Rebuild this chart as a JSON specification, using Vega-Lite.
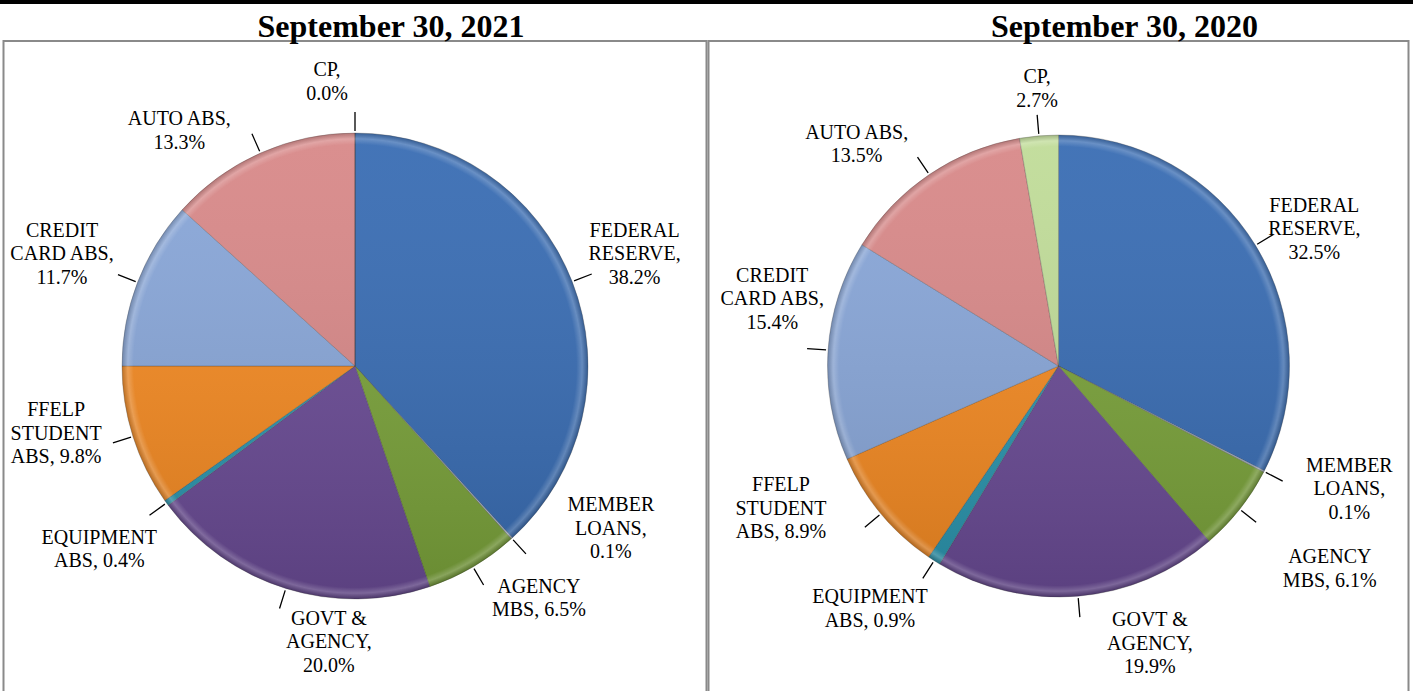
{
  "$schema": "https://vega.github.io/schema/vega-lite/v6.json",
  "padding": 0,
  "background": "white",
  "spacing": 6,
  "center": true,
  "config": {
    "view": {"stroke": "#8a8a8a", "strokeWidth": 2},
    "title": {"font": "Liberation Serif", "fontSize": 32, "fontWeight": "bold", "color": "black", "anchor": "middle", "baseline": "alphabetic", "offset": -3},
    "text": {"font": "Liberation Serif", "fontSize": 20, "lineHeight": 23.5, "color": "black", "align": "center", "baseline": "middle"}
  },
  "datasets": {
    "d2021": [
      {"cat": "FEDERAL RESERVE", "idx": 1, "value": 38.2, "label": ["FEDERAL", "RESERVE,", "38.2%"]},
      {"cat": "MEMBER LOANS", "idx": 2, "value": 0.1, "label": ["MEMBER", "LOANS,", "0.1%"]},
      {"cat": "AGENCY MBS", "idx": 3, "value": 6.5, "label": ["AGENCY", "MBS, 6.5%"]},
      {"cat": "GOVT & AGENCY", "idx": 4, "value": 20.0, "label": ["GOVT &", "AGENCY,", "20.0%"]},
      {"cat": "EQUIPMENT ABS", "idx": 5, "value": 0.4, "label": ["EQUIPMENT", "ABS, 0.4%"]},
      {"cat": "FFELP STUDENT ABS", "idx": 6, "value": 9.8, "label": ["FFELP", "STUDENT", "ABS, 9.8%"]},
      {"cat": "CREDIT CARD ABS", "idx": 7, "value": 11.7, "label": ["CREDIT", "CARD ABS,", "11.7%"]},
      {"cat": "AUTO ABS", "idx": 8, "value": 13.3, "label": ["AUTO ABS,", "13.3%"]},
      {"cat": "CP", "idx": 9, "value": 0.0, "label": ["CP,", "0.0%"]}
    ],
    "d2020": [
      {"cat": "FEDERAL RESERVE", "idx": 1, "value": 32.5, "label": ["FEDERAL", "RESERVE,", "32.5%"]},
      {"cat": "MEMBER LOANS", "idx": 2, "value": 0.1, "label": ["MEMBER", "LOANS,", "0.1%"]},
      {"cat": "AGENCY MBS", "idx": 3, "value": 6.1, "label": ["AGENCY", "MBS, 6.1%"]},
      {"cat": "GOVT & AGENCY", "idx": 4, "value": 19.9, "label": ["GOVT &", "AGENCY,", "19.9%"]},
      {"cat": "EQUIPMENT ABS", "idx": 5, "value": 0.9, "label": ["EQUIPMENT", "ABS, 0.9%"]},
      {"cat": "FFELP STUDENT ABS", "idx": 6, "value": 8.9, "label": ["FFELP", "STUDENT", "ABS, 8.9%"]},
      {"cat": "CREDIT CARD ABS", "idx": 7, "value": 15.4, "label": ["CREDIT", "CARD ABS,", "15.4%"]},
      {"cat": "AUTO ABS", "idx": 8, "value": 13.5, "label": ["AUTO ABS,", "13.5%"]},
      {"cat": "CP", "idx": 9, "value": 2.7, "label": ["CP,", "2.7%"]}
    ]
  },
  "vconcat": [
    {
      "width": 1413,
      "height": 4,
      "view": {"fill": "black", "stroke": null},
      "data": {"values": []},
      "mark": "text",
      "encoding": {}
    },
    {
      "spacing": 0,
      "hconcat": [
        {
          "width": 703,
          "height": 650,
          "view": {"stroke": "#8a8a8a", "strokeWidth": 2, "strokeDash": [1353, 703, 704]},
          "title": {"text": "September 30, 2021", "dx": 36},
          "data": {"name": "d2021"},
          "layer": [
            {
              "mark": {"type": "arc", "outerRadius": 233, "stroke": "#3a3a3a", "strokeWidth": 0.6, "strokeOpacity": 0.45},
              "encoding": {
                "theta": {"field": "value", "type": "quantitative", "stack": true},
                "order": {"field": "idx", "type": "quantitative"},
                "color": {
                  "field": "cat", "type": "nominal", "legend": null,
                  "scale": {
                    "domain": ["FEDERAL RESERVE", "MEMBER LOANS", "AGENCY MBS", "GOVT & AGENCY", "EQUIPMENT ABS", "FFELP STUDENT ABS", "CREDIT CARD ABS", "AUTO ABS", "CP"],
                    "range": ["#386cb3", "#b4c0d4", "#7aa23a", "#6a4b95", "#2b95ae", "#f48a22", "#88a6d8", "#d88888", "#c0dc98"]
                  }
                }
              }
            },
            {
              "data": {"values": [{"v": 1}]},
              "mark": {"type": "arc", "outerRadius": 233, "fill": {"gradient": "linear", "x1": 0, "y1": 0, "x2": 0, "y2": 1, "stops": [{"offset": 0, "color": "rgba(255,255,255,0.06)"}, {"offset": 1, "color": "rgba(0,0,0,0.14)"}]}},
              "encoding": {}
            },
            {
              "data": {"values": [{"v": 1}]},
              "mark": {"type": "arc", "outerRadius": 233, "fill": {"gradient": "radial", "x1": 0.5, "y1": 0.5, "x2": 0.5, "y2": 0.5, "r1": 0, "r2": 0.5, "stops": [{"offset": 0, "color": "rgba(255,255,255,0)"}, {"offset": 0.95, "color": "rgba(255,255,255,0)"}, {"offset": 0.975, "color": "rgba(255,255,255,0.2)"}, {"offset": 1, "color": "rgba(0,0,0,0.18)"}]}},
              "encoding": {}
            },
            {
              "mark": {"type": "arc", "outerRadius": 254, "innerRadius": 235, "padAngle": 3.1416, "filled": false, "stroke": "black", "strokeWidth": 1.3},
              "encoding": {
                "theta": {"field": "value", "type": "quantitative", "stack": true},
                "order": {"field": "idx", "type": "quantitative"},
                "detail": {"field": "cat", "type": "nominal"}
              }
            },
            {
              "transform": [
                {"stack": "value", "groupby": [], "sort": [{"field": "idx"}], "as": ["t0", "t1"]},
                {"fold": ["t0", "t1"], "as": ["k", "tv"]},
                {"aggregate": [{"op": "mean", "field": "tv", "as": "mid"}], "groupby": ["cat", "idx", "label"]}
              ],
              "encoding": {
                "theta": {"field": "mid", "type": "quantitative", "stack": null},
                "text": {"field": "label"}
              },
              "layer": [
                {"transform": [{"filter": "datum.cat == 'FEDERAL RESERVE'"}], "mark": {"type": "text", "radius": 300, "dx": 0, "dy": -26.5}},
                {"transform": [{"filter": "datum.cat == 'MEMBER LOANS'"}], "mark": {"type": "text", "radius": 300, "dx": 54, "dy": -82.5}},
                {"transform": [{"filter": "datum.cat == 'AGENCY MBS'"}], "mark": {"type": "text", "radius": 300, "dx": 32, "dy": -37.75}},
                {"transform": [{"filter": "datum.cat == 'GOVT & AGENCY'"}], "mark": {"type": "text", "radius": 300, "dx": 63, "dy": -33.5}},
                {"transform": [{"filter": "datum.cat == 'EQUIPMENT ABS'"}], "mark": {"type": "text", "radius": 300, "dx": -13, "dy": -4.75}},
                {"transform": [{"filter": "datum.cat == 'FFELP STUDENT ABS'"}], "mark": {"type": "text", "radius": 300, "dx": -13, "dy": -46.5}},
                {"transform": [{"filter": "datum.cat == 'CREDIT CARD ABS'"}], "mark": {"type": "text", "radius": 300, "dx": -13, "dy": -27.5}},
                {"transform": [{"filter": "datum.cat == 'AUTO ABS'"}], "mark": {"type": "text", "radius": 300, "dx": -54, "dy": 27.25}},
                {"transform": [{"filter": "datum.cat == 'CP'"}], "mark": {"type": "text", "radius": 300, "dx": -28, "dy": 4.25}}
              ]
            }
          ]
        },
        {
          "width": 700,
          "height": 650,
          "view": {"stroke": "#8a8a8a", "strokeWidth": 2, "strokeDash": [1350, 700, 704]},
          "title": {"text": "September 30, 2020", "dx": 66},
          "data": {"name": "d2020"},
          "layer": [
            {
              "mark": {"type": "arc", "outerRadius": 231, "stroke": "#3a3a3a", "strokeWidth": 0.6, "strokeOpacity": 0.45},
              "encoding": {
                "theta": {"field": "value", "type": "quantitative", "stack": true},
                "order": {"field": "idx", "type": "quantitative"},
                "color": {
                  "field": "cat", "type": "nominal", "legend": null,
                  "scale": {
                    "domain": ["FEDERAL RESERVE", "MEMBER LOANS", "AGENCY MBS", "GOVT & AGENCY", "EQUIPMENT ABS", "FFELP STUDENT ABS", "CREDIT CARD ABS", "AUTO ABS", "CP"],
                    "range": ["#386cb3", "#b4c0d4", "#7aa23a", "#6a4b95", "#2b95ae", "#f48a22", "#88a6d8", "#d88888", "#c0dc98"]
                  }
                }
              }
            },
            {
              "data": {"values": [{"v": 1}]},
              "mark": {"type": "arc", "outerRadius": 231, "fill": {"gradient": "linear", "x1": 0, "y1": 0, "x2": 0, "y2": 1, "stops": [{"offset": 0, "color": "rgba(255,255,255,0.06)"}, {"offset": 1, "color": "rgba(0,0,0,0.14)"}]}},
              "encoding": {}
            },
            {
              "data": {"values": [{"v": 1}]},
              "mark": {"type": "arc", "outerRadius": 231, "fill": {"gradient": "radial", "x1": 0.5, "y1": 0.5, "x2": 0.5, "y2": 0.5, "r1": 0, "r2": 0.5, "stops": [{"offset": 0, "color": "rgba(255,255,255,0)"}, {"offset": 0.95, "color": "rgba(255,255,255,0)"}, {"offset": 0.975, "color": "rgba(255,255,255,0.2)"}, {"offset": 1, "color": "rgba(0,0,0,0.18)"}]}},
              "encoding": {}
            },
            {
              "mark": {"type": "arc", "outerRadius": 252, "innerRadius": 233, "padAngle": 3.1416, "filled": false, "stroke": "black", "strokeWidth": 1.3},
              "encoding": {
                "theta": {"field": "value", "type": "quantitative", "stack": true},
                "order": {"field": "idx", "type": "quantitative"},
                "detail": {"field": "cat", "type": "nominal"}
              }
            },
            {
              "transform": [
                {"stack": "value", "groupby": [], "sort": [{"field": "idx"}], "as": ["t0", "t1"]},
                {"fold": ["t0", "t1"], "as": ["k", "tv"]},
                {"aggregate": [{"op": "mean", "field": "tv", "as": "mid"}], "groupby": ["cat", "idx", "label"]}
              ],
              "encoding": {
                "theta": {"field": "mid", "type": "quantitative", "stack": null},
                "text": {"field": "label"}
              },
              "layer": [
                {"transform": [{"filter": "datum.cat == 'FEDERAL RESERVE'"}], "mark": {"type": "text", "radius": 300, "dx": 0, "dy": -3.5}},
                {"transform": [{"filter": "datum.cat == 'MEMBER LOANS'"}], "mark": {"type": "text", "radius": 300, "dx": 24, "dy": -37.5}},
                {"transform": [{"filter": "datum.cat == 'AGENCY MBS'"}], "mark": {"type": "text", "radius": 300, "dx": 36, "dy": 5.25}},
                {"transform": [{"filter": "datum.cat == 'GOVT & AGENCY'"}], "mark": {"type": "text", "radius": 300, "dx": 66, "dy": -44.5}},
                {"transform": [{"filter": "datum.cat == 'EQUIPMENT ABS'"}], "mark": {"type": "text", "radius": 300, "dx": -27, "dy": -21.75}},
                {"transform": [{"filter": "datum.cat == 'FFELP STUDENT ABS'"}], "mark": {"type": "text", "radius": 300, "dx": -47, "dy": -72.5}},
                {"transform": [{"filter": "datum.cat == 'CREDIT CARD ABS'"}], "mark": {"type": "text", "radius": 300, "dx": 13, "dy": -69.5}},
                {"transform": [{"filter": "datum.cat == 'AUTO ABS'"}], "mark": {"type": "text", "radius": 300, "dx": -34, "dy": 15.25}},
                {"transform": [{"filter": "datum.cat == 'CP'"}], "mark": {"type": "text", "radius": 300, "dx": 4, "dy": 10.25}}
              ]
            }
          ]
        }
      ]
    }
  ]
}
